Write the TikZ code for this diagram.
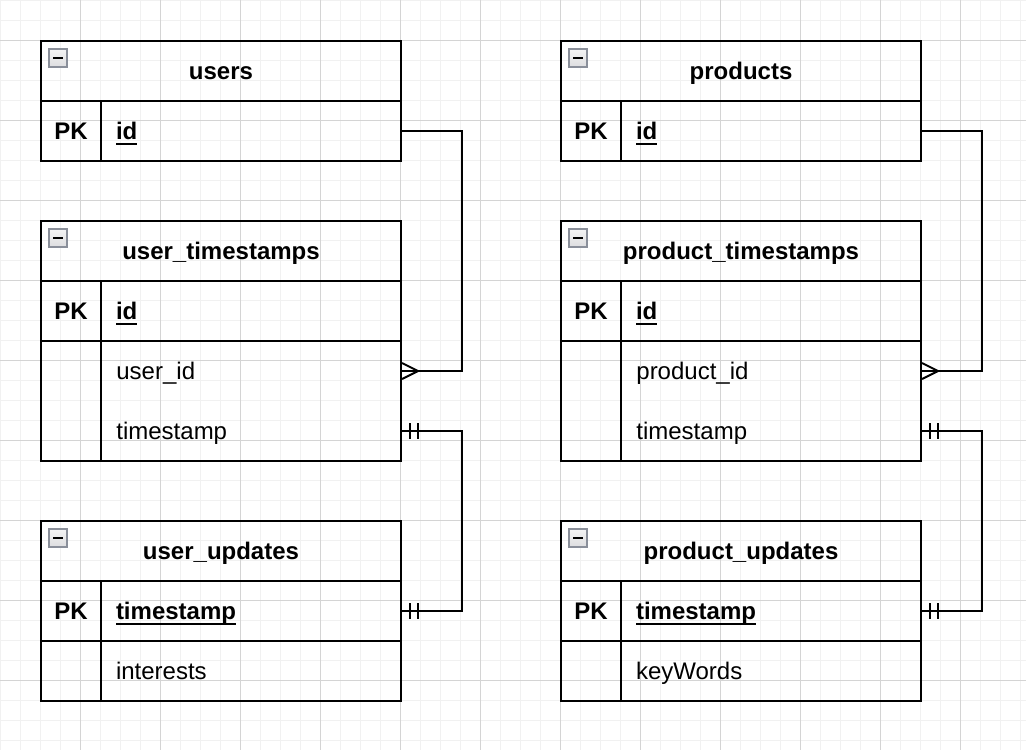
\documentclass[tikz,border=0pt]{standalone}
\usepackage{fontspec}
\setmainfont{Liberation Sans}
\definecolor{gridminor}{RGB}{241,241,241}
\definecolor{gridmajor}{RGB}{212,212,212}
\definecolor{iconedge}{RGB}{138,143,154}
\definecolor{iconfill}{RGB}{232,232,234}
\newcommand{\keyname}[1]{\setbox0\hbox{\bfseries #1}\rlap{\rule[-2.5pt]{\wd0}{1pt}}\box0}
\begin{document}
\begin{tikzpicture}[x=0.5pt,y=-0.5pt]
		\tikzstyle{every node} = [font = \fontsize{12}{14}\selectfont]
		\tikzstyle{hdr} = [draw, line width=1pt, minimum width=180pt, minimum height=30pt, inner sep=0, font=\fontsize{12}{14}\selectfont\bfseries, text height=8.6pt, text depth=0pt]
		\tikzstyle{pk} = [draw, line width=1pt, minimum width=30pt, minimum height=30pt, inner sep=0, font=\fontsize{12}{14}\selectfont\bfseries, text height=8.6pt, text depth=0pt]
		\tikzstyle{fld} = [draw, line width=1pt, minimum width=150pt, minimum height=30pt, text width=135pt, inner xsep=7.5pt, inner ysep=0, align=left, text height=8.6pt, text depth=0pt]
		\tikzstyle{txt} = [inner sep=0, anchor=west, text height=8.6pt, text depth=0pt]
		\tikzstyle{conn} = [line width=1pt]
		\tikzstyle{icon} = [draw=iconedge, top color=white!96!iconfill, bottom color=iconfill!90!gray, line width=0.75pt]
		\useasboundingbox (0,0) rectangle (1026,750);
		% background grid
		\foreach \x in {0,20,...,1020}
			\draw [gridminor, line width=.5pt] (\x,0) -- (\x,750);
		\foreach \y in {0,20,...,740}
			\draw [gridminor, line width=.5pt] (0,\y) -- (1026,\y);
		\foreach \x in {80,160,...,960}
			\draw [gridmajor, line width=.5pt] (\x,0) -- (\x,750);
		\foreach \y in {40,120,...,680}
			\draw [gridmajor, line width=.5pt] (0,\y) -- (1026,\y);
		\foreach \x/\ent/\tab/\attr in {0/user/users/interests, 520/product/products/keyWords}
		{
			% entity table
			\node [hdr] (\tab) at (\x+221,71) {\tab};
			\node [pk] (\tab-pk) at (\x+71,131) {PK};
			\node [fld] (\tab-id) at (\x+251,131) {\keyname{id}};
			% timestamps table
			\node [hdr] (\ent-ts) at (\x+221,251) {\ent\_timestamps};
			\node [pk] (\ent-ts-pk) at (\x+71,311) {PK};
			\node [fld] (\ent-ts-id) at (\x+251,311) {\keyname{id}};
			\node [pk, minimum height=60pt] (\ent-ts-col) at (\x+71,401) {};
			\node [fld, minimum height=60pt] (\ent-ts-body) at (\x+251,401) {};
			\node [txt] (\ent-fk) at (\x+116,371) {\ent\_id};
			\node [txt] (\ent-stamp) at (\x+116,431) {timestamp};
			% updates table
			\node [hdr] (\ent-up) at (\x+221,551) {\ent\_updates};
			\node [pk] (\ent-up-pk) at (\x+71,611) {PK};
			\node [fld] (\ent-up-ts) at (\x+251,611) {\keyname{timestamp}};
			\node [pk] (\ent-up-col) at (\x+71,671) {};
			\node [fld] (\ent-up-attr) at (\x+251,671) {\attr};
			% collapse icons
			\foreach \h in {\tab, \ent-ts, \ent-up}
			{
				\draw [icon] (\h.north west) ++(9,9) rectangle ++(18,18);
				\draw [line width=1.25pt] (\h.north west) ++(13,18) -- ++(10,0);
			}
			% relations
			\coordinate (\ent-fk-end) at (\ent-fk -| \ent-ts-body.east);
			\coordinate (\ent-stamp-end) at (\ent-stamp -| \ent-ts-body.east);
			\draw [conn] (\tab-id.east) -- ++(60,0) |- (\ent-fk-end);
			\draw [conn] (\ent-fk-end) ++(0,-8) -- ++(16,8) -- ++(-16,8); %many
			\draw [conn] (\ent-stamp-end) -- ++(60,0) |- (\ent-up-ts.east);
			\draw [conn] (\ent-stamp-end) ++(8,-8) -- ++(0,16) ++(8,-16) -- ++(0,16); %one
			\draw [conn] (\ent-up-ts.east) ++(8,-8) -- ++(0,16) ++(8,-16) -- ++(0,16); %one
		}
\end{tikzpicture}
\end{document}
